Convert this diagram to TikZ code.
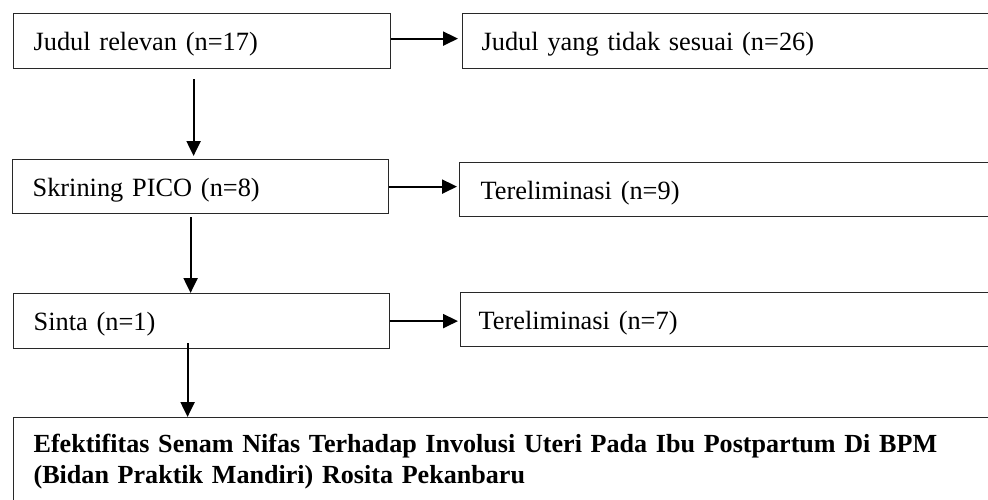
\documentclass[tikz,border=0pt]{standalone}
\usepackage{fontspec}
\setmainfont{Liberation Serif}
\usepackage{tikz}
\usetikzlibrary{arrows.meta,calc,positioning}
\definecolor{flowline}{RGB}{40,40,40}

\begin{document}
\begin{tikzpicture}[x=0.02cm,y=-0.02cm,>={Triangle[length=0.3cm,width=0.28cm]},
  stagebox/.style={draw=flowline,line width=0.7pt,anchor=north west,align=left,
   inner xsep=0.4cm,inner ysep=0pt,minimum height=1.1cm,
   text height=0.5cm,text depth=0.12cm,
   font=\fontsize{15}{17.6}\selectfont},
  arr/.style={->,line width=1.2pt}]
 \useasboundingbox (0,0) rectangle (988,500);
 \clip (0,0) rectangle (988,500);
 % left column
 \node[stagebox,text width=6.74cm] (judul) at (13,13) {Judul relevan (n=17)};
 \node[stagebox,text width=6.72cm,minimum height=1.08cm] (skrining) at (12,159) {Skrining PICO (n=8)};
 \node[stagebox,text width=6.72cm] (sinta) at (13,293) {Sinta (n=1)};
 % excluded
 \node[stagebox,text width=11cm,inner xsep=0.38cm] (tdksesuai) at (462,13) {Judul yang tidak sesuai (n=26)};
 \node[stagebox,text width=11cm,inner xsep=0.42cm,minimum height=1.08cm] (elim1) at (459,162) {Tereliminasi (n=9)};
 \node[stagebox,text width=11cm,inner xsep=0.36cm,minimum height=1.08cm] (elim2) at (460,292) {Tereliminasi (n=7)};
 % result
 \node[stagebox,text width=20cm,inner ysep=0.34cm,text height=,text depth=,
  font=\fontsize{14.85}{17.6}\selectfont\bfseries] (hasil) at (13,417)
  {Efektifitas Senam Nifas Terhadap Involusi Uteri Pada Ibu Postpartum Di BPM\\
   (Bidan Praktik Mandiri) Rosita Pekanbaru};
 % arrows
 \draw[arr,shorten >=0.08cm] ([yshift=0.05cm]judul.east) -- ([yshift=0.05cm]judul.east -| tdksesuai.west);
 \draw[arr,shorten >=0.04cm] (skrining.east) -- (skrining.east -| elim1.west);
 \draw[arr,shorten >=0.04cm] (sinta.east) -- (sinta.east -| elim2.west);
 \draw[arr,shorten <=0.2cm,shorten >=0.06cm] ([xshift=-0.17cm]judul.south) -- ([xshift=-0.17cm]judul.south |- skrining.north);
 \draw[arr,shorten <=0.06cm] ([xshift=-0.2cm]skrining.south) -- ([xshift=-0.2cm]skrining.south |- sinta.north);
 \draw[arr,shorten <=-0.12cm] ([xshift=-0.28cm]sinta.south) -- ([xshift=-0.28cm]sinta.south |- hasil.north);
\end{tikzpicture}
\end{document}
